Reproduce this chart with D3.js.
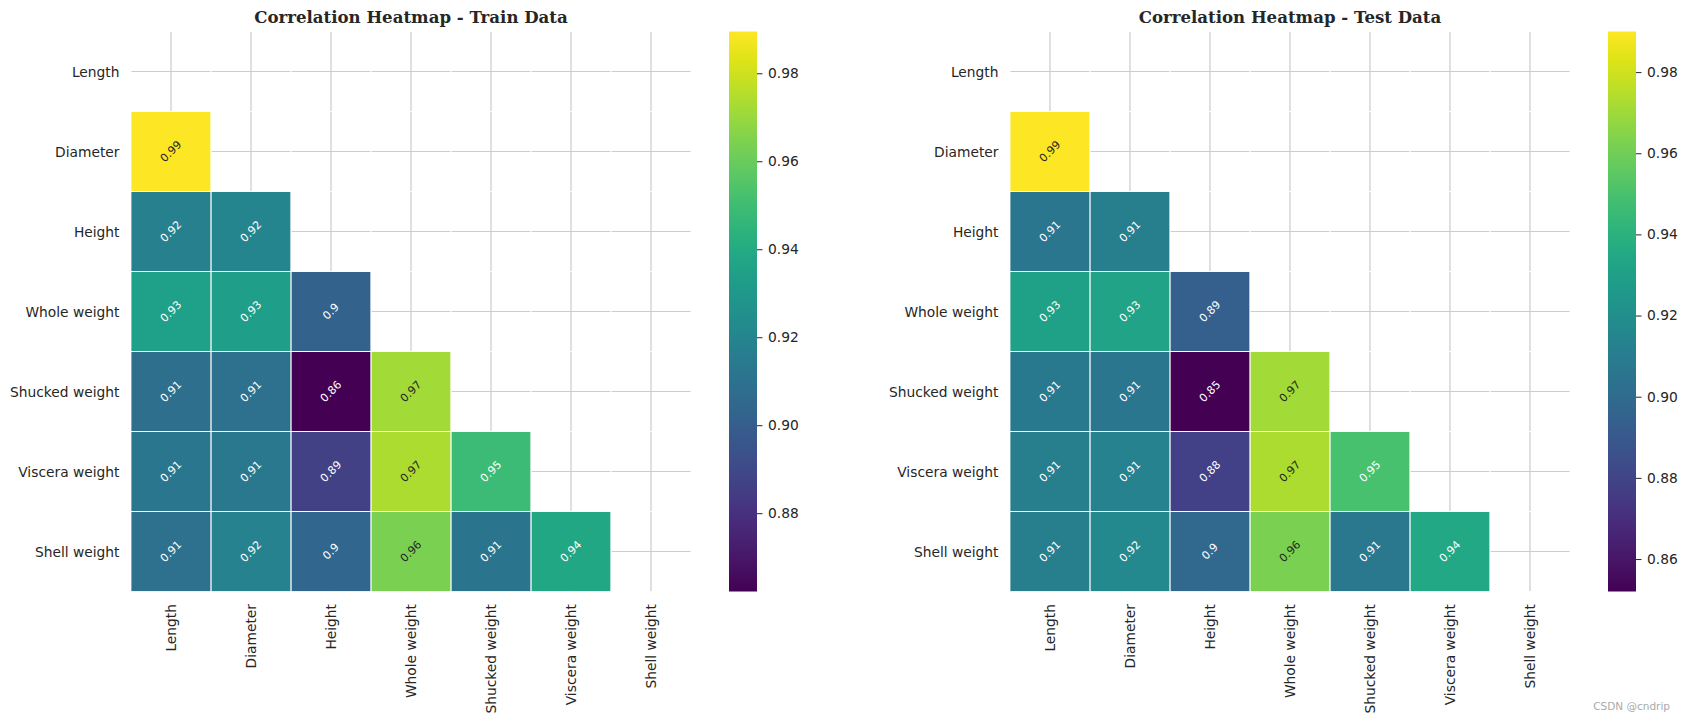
<!DOCTYPE html>
<html>
<head>
<meta charset="utf-8">
<script src="https://cdn.jsdelivr.net/npm/d3@7"></script>
<style>
  html, body { margin: 0; padding: 0; background: #ffffff; }
  svg { display: block; }
</style>
</head>
<body>
<svg id="chart" width="1686" height="721"></svg>
<script>
// ---------------- data ----------------
const features = ["Length", "Diameter", "Height", "Whole weight", "Shucked weight", "Viscera weight", "Shell weight"];

// lower-triangle correlations (row i, columns 0..i-1)
const trainRows = [
  [],
  [0.9895],
  [0.917, 0.920],
  [0.934, 0.933, 0.902],
  [0.908, 0.909, 0.8622, 0.972],
  [0.912, 0.913, 0.887, 0.974, 0.949],
  [0.909, 0.918, 0.904, 0.964, 0.911, 0.938]
];
const testRows = [
  [],
  [0.990],
  [0.906, 0.911],
  [0.931, 0.932, 0.893],
  [0.908, 0.906, 0.852, 0.971],
  [0.911, 0.913, 0.878, 0.973, 0.950],
  [0.911, 0.917, 0.898, 0.962, 0.907, 0.935]
];
const trainTicks = [0.88, 0.90, 0.92, 0.94, 0.96, 0.98];
const testTicks = [0.86, 0.88, 0.90, 0.92, 0.94, 0.96, 0.98];
const titles = ["Correlation Heatmap - Train Data", "Correlation Heatmap - Test Data"];

// ---------------- drawing ----------------
const svg = d3.select("#chart");
const textColor = "#262626";
const fontSans = "'DejaVu Sans', sans-serif";

function luminance(c) {
  const rgb = d3.rgb(c);
  const f = v => { v /= 255; return v <= 0.03928 ? v / 12.92 : Math.pow((v + 0.055) / 1.055, 2.4); };
  return 0.2126 * f(rgb.r) + 0.7152 * f(rgb.g) + 0.0722 * f(rgb.b);
}

function drawPanel(idx, rows, ticks, title, offsetX) {
  const g = svg.append("g").attr("transform", `translate(${offsetX},0)`);
  const left = 131, top = 31.5, size = 560;
  const x = d3.scaleBand().domain(features).range([left, left + size]);
  const y = d3.scaleBand().domain(features).range([top, top + size]);

  const cells = [];
  rows.forEach((r, i) => r.forEach((v, j) => cells.push({ row: features[i], col: features[j], v })));
  const ext = d3.extent(cells, d => d.v);
  const color = d3.scaleSequential(d3.interpolateViridis).domain(ext);

  // grid
  const grid = g.append("g");
  features.forEach(f => {
    grid.append("line")
      .attr("x1", x(f) + x.bandwidth() / 2).attr("x2", x(f) + x.bandwidth() / 2)
      .attr("y1", top).attr("y2", top + size)
      .attr("stroke", "#cccccc").attr("stroke-width", 1.2);
    grid.append("line")
      .attr("y1", y(f) + y.bandwidth() / 2).attr("y2", y(f) + y.bandwidth() / 2)
      .attr("x1", left).attr("x2", left + size)
      .attr("stroke", "#cccccc").attr("stroke-width", 1.2);
  });

  // cells
  g.append("g").selectAll("rect").data(cells).join("rect")
    .attr("x", d => x(d.col)).attr("y", d => y(d.row))
    .attr("width", x.bandwidth()).attr("height", y.bandwidth())
    .attr("fill", d => color(d.v));

  // white cell edges (all cells, including masked)
  const edges = g.append("g");
  features.forEach(r => features.forEach(c => {
    edges.append("rect")
      .attr("x", x(c)).attr("y", y(r))
      .attr("width", x.bandwidth()).attr("height", y.bandwidth())
      .attr("fill", "none").attr("stroke", "#ffffff").attr("stroke-width", 0.8);
  }));

  // annotations
  const fmt = d3.format(".2");
  g.append("g").selectAll("text").data(cells).join("text")
    .attr("transform", d => `translate(${x(d.col) + x.bandwidth() / 2},${y(d.row) + y.bandwidth() / 2}) rotate(-45)`)
    .attr("text-anchor", "middle").attr("dominant-baseline", "central")
    .attr("font-family", fontSans).attr("font-size", "11px")
    .attr("fill", d => luminance(color(d.v)) > 0.408 ? textColor : "#ffffff")
    .text(d => fmt(d.v));

  // y tick labels
  g.append("g").selectAll("text").data(features).join("text")
    .attr("x", left - 11.5).attr("y", d => y(d) + y.bandwidth() / 2)
    .attr("text-anchor", "end").attr("dominant-baseline", "central")
    .attr("font-family", fontSans).attr("font-size", "13.8px").attr("fill", textColor)
    .text(d => d);

  // x tick labels
  g.append("g").selectAll("text").data(features).join("text")
    .attr("transform", d => `translate(${x(d) + x.bandwidth() / 2},${top + size + 12.5}) rotate(-90)`)
    .attr("text-anchor", "end").attr("dominant-baseline", "central")
    .attr("font-family", fontSans).attr("font-size", "13.8px").attr("fill", textColor)
    .text(d => d);

  // title
  g.append("text")
    .attr("x", left + size / 2).attr("y", top - 9)
    .attr("text-anchor", "middle")
    .attr("font-family", "'DejaVu Serif', serif").attr("font-weight", "bold")
    .attr("font-size", "16.6px").attr("fill", textColor)
    .text(title);

  // colorbar
  const cbX = 729, cbW = 28;
  const cy = d3.scaleLinear().domain(ext).range([top + size, top]);
  const gradId = "grad" + idx;
  const grad = svg.append("defs").append("linearGradient")
    .attr("id", gradId).attr("x1", 0).attr("x2", 0).attr("y1", 1).attr("y2", 0);
  d3.range(0, 1.0001, 0.05).forEach(t => {
    grad.append("stop").attr("offset", t).attr("stop-color", d3.interpolateViridis(t));
  });
  g.append("rect")
    .attr("x", cbX).attr("y", top).attr("width", cbW).attr("height", size)
    .attr("fill", `url(#${gradId})`);
  const axis = d3.axisRight(cy).tickValues(ticks).tickFormat(d3.format(".2f"))
    .tickSize(5.5).tickPadding(5.5);
  const ax = g.append("g").attr("transform", `translate(${cbX + cbW},0)`).call(axis);
  ax.select(".domain").remove();
  ax.selectAll(".tick line").attr("stroke", textColor).attr("stroke-width", 1);
  ax.selectAll(".tick text").attr("font-family", fontSans).attr("font-size", "13.8px").attr("fill", textColor);
}

drawPanel(0, trainRows, trainTicks, titles[0], 0);
drawPanel(1, testRows, testTicks, titles[1], 879);

// watermark
svg.append("text")
  .attr("x", 1670).attr("y", 706)
  .attr("text-anchor", "end").attr("dominant-baseline", "central")
  .attr("font-family", fontSans).attr("font-size", "10.5px").attr("fill", "#aaaaaa")
  .text("CSDN @cndrip");
</script>
</body>
</html>
